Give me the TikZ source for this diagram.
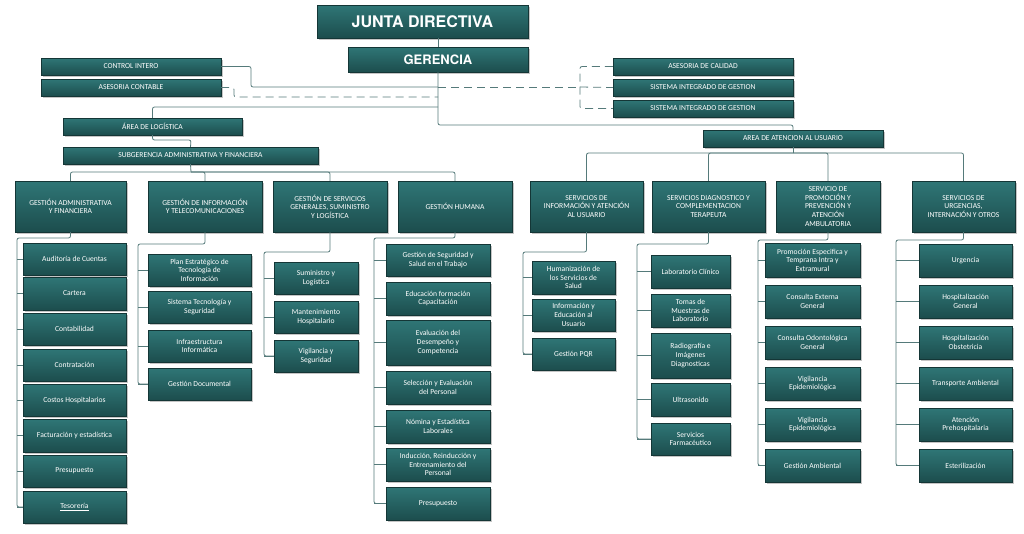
\documentclass[tikz,border=0pt]{standalone}
\usepackage{fontspec}
\setmainfont{Carlito}
\newfontfamily\headfont{TeX Gyre Heros}
\usetikzlibrary{calc,shadows}
\definecolor{tealtop}{HTML}{2F7676}
\definecolor{tealbot}{HTML}{1C4D4D}
\definecolor{linkc}{HTML}{557A7A}
\tikzset{
  box/.style={draw=tealbot!70!black, top color=tealtop, bottom color=tealbot,
    text=white, align=center, inner sep=1pt, font=\fontsize{7.6}{8.6}\selectfont,
    drop shadow={shadow xshift=1.5pt, shadow yshift=-1.5pt, fill=black!45}},
  head/.style={font=\headfont\fontsize{16}{18}\selectfont\bfseries},
  link/.style={draw=linkc, line width=0.8pt, rounded corners=2pt},
  dlink/.style={link, dash pattern=on 8pt off 5pt},
}
% box from its corners
\newcommand\orgbox[7][]{%
  \node[box,#1,minimum width=#4pt-#2pt,minimum height=#5pt-#3pt] (#6) at ({(#2+#4)/2},{(#3+#5)/2}) {#7};}
% a parent, its trunk and its children
\newcommand\orglist[4]{%
  \coordinate (#1T) at (#2,#3);
  \foreach \c [count=\i] in {#4} {\xdef\lastc{\c}}
  \draw[link] (#1.south) |- (#1T) |- (\lastc.west);
  \foreach \c in {#4} {\draw[link] (#1T |- \c.west) -- (\c.west);}}
\begin{document}
\begin{tikzpicture}[x=1pt,y=-1pt]
\useasboundingbox (0,0) rectangle (1024,533);
% top
\orgbox[head]{317}{5}{528}{38}{jd}{JUNTA DIRECTIVA}
\orgbox[head,font=\headfont\fontsize{13}{15}\selectfont\bfseries]{348}{47}{528}{72}{ger}{GERENCIA}
\orgbox{41}{58}{221}{75}{ci}{CONTROL INTERO}
\orgbox{41}{79}{221}{96}{ac}{ASESORIA CONTABLE}
\orgbox{613}{58}{793}{75}{cal}{ASESORIA DE CALIDAD}
\orgbox{613}{79}{793}{96}{sig}{SISTEMA INTEGRADO DE GESTION}
\orgbox{613}{100}{793}{117}{sigb}{SISTEMA INTEGRADO DE GESTION}
\orgbox{63}{118}{242}{135}{log}{ÁREA DE LOGÍSTICA}
\orgbox{63}{147}{318}{164}{sub}{SUBGERENCIA ADMINISTRATIVA Y FINANCIERA}
\orgbox{703}{130}{883}{147}{aten}{AREA DE ATENCION AL USUARIO}
\coordinate (g1) at (438,107);
\coordinate (g2) at (438,125);
\coordinate (cj) at (438,87);
\coordinate (dj) at (438,97);
\coordinate (br) at (580,87);
\draw[link] (ger.north) -- (ger.north |- jd.south);
\draw[link] (ger.south) -- (g2) -| (aten.north);
\draw[link] (g1) -| (log.north);
\draw[link] (ci.east) -| (251,87) -- (cj);
\draw[dlink] (cj) -- (br);
\draw[dlink] (ac.east) -| (234,97) -- (dj);
\draw[dlink] (cal.west) -| (br) |- (sigb.west);
\draw[dlink] (br) -- (sig.west);
\draw[link] (log.south) |- (191,140) -- (sub.north);
% level 3
\orgbox{15}{181}{126}{232}{ga}{GESTIÓN ADMINISTRATIVA\\Y FINANCIERA}
\orgbox{148}{181}{262}{232}{gi}{GESTIÓN DE INFORMACIÓN\\Y TELECOMUNICACIONES}
\orgbox{273}{181}{387}{232}{gs}{GESTIÓN DE SERVICIOS\\GENERALES, SUMINISTRO\\Y LOGÍSTICA}
\orgbox{398}{181}{512}{232}{gh}{GESTIÓN HUMANA}
\orgbox{530}{181}{643}{232}{si}{SERVICIOS DE\\INFORMACIÓN Y ATENCIÓN\\AL USUARIO}
\orgbox{652}{181}{765}{232}{sd}{SERVICIOS DIAGNOSTICO Y\\COMPLEMENTACION\\TERAPEUTA}
\orgbox{776}{181}{880}{232}{sp}{SERVICIO DE\\PROMOCIÓN Y\\PREVENCIÓN Y\\ATENCIÓN\\AMBULATORIA}
\orgbox{912}{181}{1015}{232}{su}{SERVICIOS DE\\URGENCIAS,\\INTERNACIÓN Y OTROS}
\coordinate (s1) at (191,172);
\draw[link] (sub.south) -- (s1);
\draw[link] (s1) -| (ga.north); \draw[link] (s1) -| (gi.north);
\draw[link] (s1) -| (gs.north); \draw[link] (s1) -| (gh.north);
\coordinate (a1) at (793,153);
\draw[link] (aten.south) -- (a1);
\draw[link] (a1) -| (si.north); \draw[link] (a1) -| (sd.north);
\draw[link] (a1) -| (sp.north); \draw[link] (a1) -| (su.north);
% children
\orgbox{23}{243}{126}{275}{ga1}{Auditoría de Cuentas}
\orgbox{23}{277}{126}{310}{ga2}{Cartera}
\orgbox{23}{313}{126}{345}{ga3}{Contabilidad}
\orgbox{23}{349}{126}{381}{ga4}{Contratación}
\orgbox{23}{384}{126}{416}{ga5}{Costos Hospitalarios}
\orgbox{23}{419}{126}{452}{ga6}{Facturación y estadística}
\orgbox{23}{455}{126}{487}{ga7}{Presupuesto}
\orgbox{23}{491}{126}{523}{ga8}{\underline{Tesorería}}
\orglist{ga}{17}{238}{ga1,ga2,ga3,ga4,ga5,ga6,ga7,ga8}
\orgbox{148}{254}{251}{286}{gi1}{Plan Estratégico de\\Tecnología de\\Información}
\orgbox{148}{291}{251}{323}{gi2}{Sistema Tecnología y\\Seguridad}
\orgbox{148}{330}{251}{362}{gi3}{Infraestructura\\Informática}
\orgbox{148}{368}{251}{400}{gi4}{Gestión Documental}
\orglist{gi}{138}{244}{gi1,gi2,gi3,gi4}
\orgbox{274}{262}{358}{294}{gs1}{Suministro y\\Logística}
\orgbox{274}{301}{358}{333}{gs2}{Mantenimiento\\Hospitalario}
\orgbox{274}{340}{358}{372}{gs3}{Vigilancia y\\Seguridad}
\orglist{gs}{264}{252}{gs1,gs2,gs3}
\orgbox{386}{244}{490}{276}{gh1}{Gestión de Seguridad y\\Salud en el Trabajo}
\orgbox{386}{282}{490}{315}{gh2}{Educación formación\\Capacitación}
\orgbox{386}{320}{490}{365}{gh3}{Evaluación del\\Desempeño y\\Competencia}
\orgbox{386}{371}{490}{404}{gh4}{Selección y Evaluación\\del Personal}
\orgbox{386}{410}{490}{443}{gh5}{Nómina y Estadística\\Laborales}
\orgbox{386}{448}{490}{481}{gh6}{Inducción, Reinducción y\\Entrenamiento del\\Personal}
\orgbox{386}{487}{490}{520}{gh7}{Presupuesto}
\orglist{gh}{374}{238}{gh1,gh2,gh3,gh4,gh5,gh6,gh7}
\orgbox{532}{261}{615}{294}{si1}{Humanización de\\los Servicios de\\Salud}
\orgbox{532}{299}{615}{331}{si2}{Información y\\Educación al\\Usuario}
\orgbox{532}{338}{615}{370}{si3}{Gestión PQR}
\orglist{si}{523}{252}{si1,si2,si3}
\orgbox{651}{255}{730}{288}{sd1}{Laboratorio Clínico}
\orgbox{651}{294}{730}{327}{sd2}{Tomas de\\Muestras de\\Laboratorio}
\orgbox{651}{333}{730}{378}{sd3}{Radiografía e\\Imágenes\\Diagnosticas}
\orgbox{651}{383}{730}{416}{sd4}{Ultrasonido}
\orgbox{651}{423}{730}{455}{sd5}{Servicios\\Farmacéutico}
\orglist{sd}{637}{244}{sd1,sd2,sd3,sd4,sd5}
\orgbox{765}{243}{860}{277}{sp1}{Promoción Especifica y\\Temprana Intra y\\Extramural}
\orgbox{765}{285}{860}{318}{sp2}{Consulta Externa\\General}
\orgbox{765}{326}{860}{359}{sp3}{Consulta Odontológica\\General}
\orgbox{765}{367}{860}{400}{sp4}{Vigilancia\\Epidemiológica}
\orgbox{765}{408}{860}{441}{sp5}{Vigilancia\\Epidemiológica}
\orgbox{765}{449}{860}{482}{sp6}{Gestión Ambiental}
\orglist{sp}{758}{240}{sp1,sp2,sp3,sp4,sp5,sp6}
\orgbox{919}{244}{1012}{277}{su1}{Urgencia}
\orgbox{919}{285}{1012}{318}{su2}{Hospitalización\\General}
\orgbox{919}{326}{1012}{359}{su3}{Hospitalización\\Obstetricia}
\orgbox{919}{367}{1012}{400}{su4}{Transporte Ambiental}
\orgbox{919}{408}{1012}{441}{su5}{Atención\\Prehospitalaria}
\orgbox{919}{449}{1012}{482}{su6}{Esterilización}
\orglist{su}{896}{240}{su1,su2,su3,su4,su5,su6}
\end{tikzpicture}
\end{document}
